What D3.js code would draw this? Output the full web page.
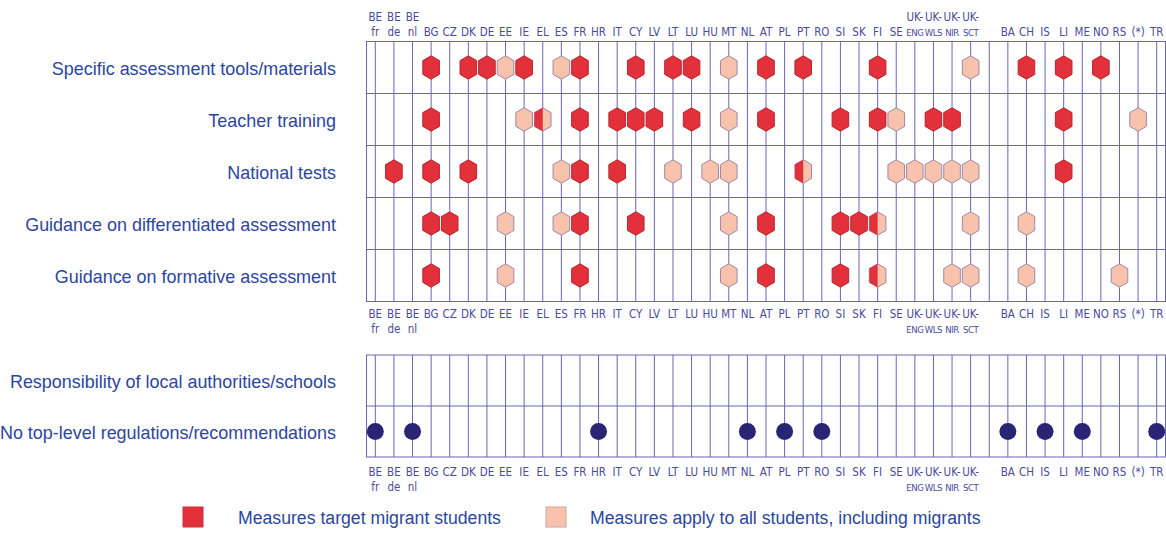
<!DOCTYPE html>
<html>
<head>
<meta charset="utf-8">
<script src="https://cdn.jsdelivr.net/npm/d3@7"></script>
<style>
    body { margin: 0; background: #fff; }
    .row-label, .legend-label { font-family: "Liberation Sans", Arial, sans-serif; font-size: 19px; fill: #2c46a0; }
    .tick-label { font-family: "Liberation Sans Narrow", "DejaVu Sans Condensed", sans-serif; font-size: 11.5px; fill: #4b4a9c; }
    .tick-label.small { font-size: 9.5px; letter-spacing: -0.4px; }
</style>
</head>
<body>
<div class="chart"></div>
<script>
// countries (columns), a blank column sits between the two groups
var countriesEU = ["BE fr", "BE de", "BE nl", "BG", "CZ", "DK", "DE", "EE", "IE", "EL", "ES", "FR", "HR",
    "IT", "CY", "LV", "LT", "LU", "HU", "MT", "NL", "AT", "PL", "PT", "RO", "SI", "SK", "FI", "SE",
    "UK-ENG", "UK-WLS", "UK-NIR", "UK-SCT"];
var countriesOther = ["BA", "CH", "IS", "LI", "ME", "NO", "RS", "(*)", "TR"];

// top panel rows
var measures = ["Specific assessment tools/materials", "Teacher training", "National tests",
    "Guidance on differentiated assessment", "Guidance on formative assessment"];

// measures target migrant students (one list per row)
var targeted = [
    ["BG", "DK", "DE", "IE", "FR", "CY", "LT", "LU", "AT", "PT", "FI", "CH", "LI", "NO"],
    ["BG", "FR", "IT", "CY", "LV", "LU", "AT", "SI", "FI", "UK-WLS", "UK-NIR", "LI"],
    ["BE de", "BG", "DK", "FR", "IT", "LI"],
    ["BG", "CZ", "FR", "CY", "AT", "SI", "SK"],
    ["BG", "FR", "AT", "SI"]
];
// measures apply to all students, including migrants
var allStudents = [
    ["EE", "ES", "MT", "UK-SCT"],
    ["IE", "MT", "SE", "(*)"],
    ["ES", "LT", "HU", "MT", "SE", "UK-ENG", "UK-WLS", "UK-NIR", "UK-SCT"],
    ["EE", "ES", "MT", "UK-SCT", "CH"],
    ["EE", "MT", "UK-NIR", "UK-SCT", "CH", "RS"]
];
// both kinds of measure
var bothKinds = [
    [],
    ["EL"],
    ["PT"],
    ["FI"],
    ["FI"]
];

// bottom panel rows
var otherRows = ["Responsibility of local authorities/schools", "No top-level regulations/recommendations"];
var localResponsibility = [];
var noRegulations = ["BE fr", "BE nl", "HR", "NL", "PL", "RO", "BA", "IS", "ME", "TR"];

var legendLabels = ["Measures target migrant students", "Measures apply to all students, including migrants"];

(function() {
    var width = 1166, height = 533;
    var red = "#e2313b", pink = "#f8c2ac", grid = "#6a66b2", navy = "#2b2474";

    var columns = countriesEU.concat(["_gap"], countriesOther);

    var svg = d3.select(".chart").append("svg")
        .attr("width", width)
        .attr("height", height);

    // set the ranges
    var x = d3.scaleBand().domain(columns).range([366, 1166]);
    var cx = function(c) { return x(c) + x.bandwidth() / 2; };
    var yTop = d3.scaleBand().domain(measures).range([41.5, 301.5]);
    var yBot = d3.scaleBand().domain(otherRows).range([355, 457]);

    // draw one framed grid panel
    var drawGrid = function(yScale) {
        var g = svg.append("g");
        var y0 = yScale.range()[0], y1 = yScale.range()[1];
        g.selectAll(".vline")
            .data(columns)
            .enter().append("line")
            .attr("x1", cx).attr("x2", cx)
            .attr("y1", y0).attr("y2", y1)
            .attr("stroke", grid).attr("stroke-width", 1);
        g.selectAll(".hline")
            .data(yScale.domain().slice(1))
            .enter().append("line")
            .attr("x1", 366).attr("x2", 1166)
            .attr("y1", function(d) { return yScale(d); })
            .attr("y2", function(d) { return yScale(d); })
            .attr("stroke", grid).attr("stroke-width", 1);
        g.append("rect")
            .attr("x", 366.5).attr("y", y0)
            .attr("width", 799).attr("height", y1 - y0)
            .attr("fill", "none").attr("stroke", grid).attr("stroke-width", 1);
        return g;
    };

    // row labels on the left
    var drawRowLabels = function(yScale) {
        svg.selectAll(null)
            .data(yScale.domain())
            .enter().append("g")
            .attr("transform", function(d) {
                return "translate(336," + (yScale(d) + yScale.bandwidth() / 2 + 7) + ") scale(0.945,1)";
            })
            .append("text")
            .attr("class", "row-label")
            .attr("text-anchor", "end")
            .text(function(d) { return d; });
    };

    // split a country code into its two label lines
    var splitLabel = function(c) {
        if (c.indexOf("UK-") === 0) return ["UK-", c.slice(3)];
        if (c.indexOf(" ") > 0) return c.split(" ");
        return [c];
    };

    // country labels; "single" is the line a one-line label sits on
    var drawTicks = function(yLine1, yLine2, single) {
        var g = svg.append("g");
        columns.filter(function(c) { return c !== "_gap"; }).forEach(function(c) {
            var parts = splitLabel(c);
            if (parts.length === 1) {
                g.append("text").attr("class", "tick-label")
                    .attr("x", cx(c)).attr("y", single === 1 ? yLine1 : yLine2)
                    .attr("text-anchor", "middle").text(parts[0]);
            } else {
                g.append("text").attr("class", "tick-label")
                    .attr("x", cx(c)).attr("y", yLine1)
                    .attr("text-anchor", "middle").text(parts[0]);
                g.append("text").attr("class", "tick-label" + (c.indexOf("UK-") === 0 ? " small" : ""))
                    .attr("x", cx(c)).attr("y", yLine2)
                    .attr("text-anchor", "middle").text(parts[1]);
            }
        });
    };

    // hexagon marker
    var hw = 8.3, hh = 11.7, hs = 4.8;
    var hexPoints = [[0, -hh], [hw, -hh + hs], [hw, hh - hs], [0, hh], [-hw, hh - hs], [-hw, -hh + hs]];
    var leftHalf = [[0, -hh], [-hw, -hh + hs], [-hw, hh - hs], [0, hh]];
    var line = d3.line();

    drawGrid(yTop);
    drawGrid(yBot);
    drawRowLabels(yTop);
    drawRowLabels(yBot);
    drawTicks(21, 36, 2);
    drawTicks(318, 333, 1);
    drawTicks(476, 491, 1);

    var markers = svg.append("g");
    measures.forEach(function(m, i) {
        var cy = yTop(m) + yTop.bandwidth() / 2;
        var items = [];
        targeted[i].forEach(function(c) { items.push({c: c, t: "red"}); });
        allStudents[i].forEach(function(c) { items.push({c: c, t: "pink"}); });
        bothKinds[i].forEach(function(c) { items.push({c: c, t: "both"}); });

        var hex = markers.selectAll(null)
            .data(items)
            .enter().append("g")
            .attr("transform", function(d) { return "translate(" + cx(d.c) + "," + cy + ")"; });
        hex.append("path")
            .attr("d", line(hexPoints) + "Z")
            .attr("fill", function(d) { return d.t === "red" ? red : pink; })
            .attr("stroke", function(d) { return d.t === "red" ? "#b8262e" : "#9c8aa8"; })
            .attr("stroke-width", 1);
        hex.filter(function(d) { return d.t === "both"; })
            .append("path")
            .attr("d", line(leftHalf) + "Z")
            .attr("fill", red);
    });

    // dots in the bottom panel
    [localResponsibility, noRegulations].forEach(function(list, i) {
        var cy = yBot(otherRows[i]) + yBot.bandwidth() / 2;
        markers.selectAll(null)
            .data(list)
            .enter().append("circle")
            .attr("cx", cx).attr("cy", cy)
            .attr("r", 8.5)
            .attr("fill", navy);
    });

    // legend
    var legend = svg.append("g");
    var boxX = [183, 546], textX = [238, 590];
    legendLabels.forEach(function(d, i) {
        legend.append("rect")
            .attr("x", boxX[i]).attr("y", 507)
            .attr("width", 20).attr("height", 20)
            .attr("fill", i === 0 ? red : pink)
            .attr("stroke", i === 0 ? "#c9303a" : "#c9a9a0");
        legend.append("g")
            .attr("transform", "translate(" + textX[i] + ",524) scale(0.93,1)")
            .append("text")
            .attr("class", "legend-label")
            .text(d);
    });
})();
</script>
</body>
</html>
